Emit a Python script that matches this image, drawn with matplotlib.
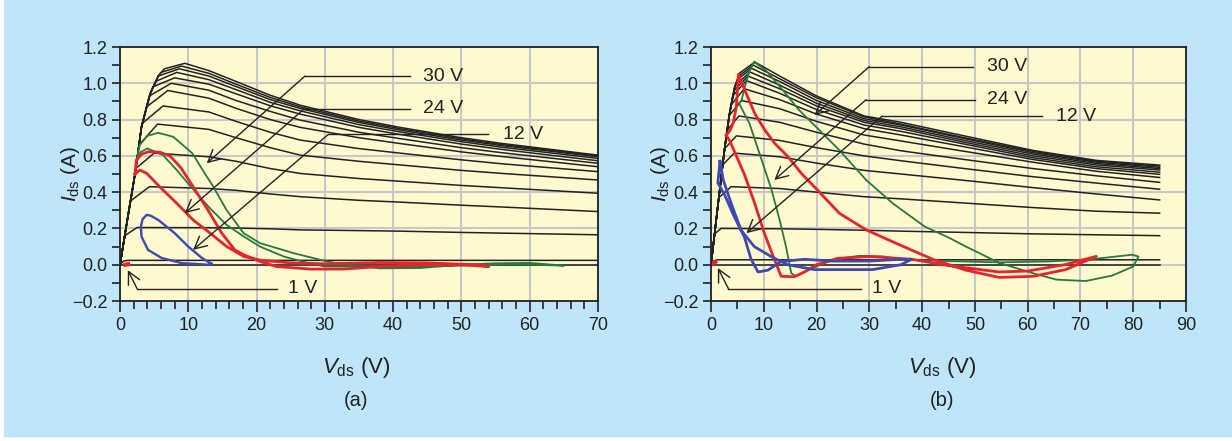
import numpy as np
import matplotlib.pyplot as plt
from matplotlib.patches import Rectangle

plt.rcParams['font.family'] = ['Liberation Sans', 'DejaVu Sans']
plt.rcParams['mathtext.fontset'] = 'custom'
plt.rcParams['mathtext.rm'] = 'Liberation Sans'
plt.rcParams['mathtext.it'] = 'Liberation Sans:italic'

# ---------------- panel (a) data ----------------
a_env_v = [0, 1.0, 2.2, 3.15, 4.4, 5.6, 7.0]
a_env_i = [0, 0.23, 0.50, 0.76, 0.94, 1.04, 1.09]
a_knee_v = [6.5, 6.0, 5.6, 5.2, 4.8, 4.3, 3.9, 3.3, 2.8, 2.3, 1.5, 0.7, 0.5, 0.3]
a_knee_i = [1.08, 1.06, 1.04, 1.01, 0.98, 0.93, 0.87, 0.78, 0.66, 0.53, 0.35, 0.16, 0.02, 0.0]
a_peak_v = [9.5, 9.0, 8.7, 8.3, 8.0, 7.5, 7.0, 6.3, 5.5, 5.0, 4.3, 2.5, 1.2, 1.0]
a_peak_i = [1.11, 1.095, 1.08, 1.06, 1.03, 1.0, 0.96, 0.875, 0.775, 0.615, 0.43, 0.205, 0.024, 0.0]
a_tail_v = [13, 17, 22, 26.4, 35, 41, 50, 56, 70]
a_tail_i = [
    [1.07, 1.01, 0.934, 0.879, 0.80, 0.757, 0.70, 0.668, 0.604],
    [1.055, 0.995, 0.922, 0.870, 0.792, 0.750, 0.694, 0.662, 0.600],
    [1.04, 0.982, 0.91, 0.861, 0.784, 0.742, 0.687, 0.656, 0.595],
    [1.02, 0.965, 0.895, 0.848, 0.772, 0.732, 0.678, 0.647, 0.586],
    [0.995, 0.942, 0.876, 0.830, 0.757, 0.718, 0.665, 0.635, 0.573],
    [0.962, 0.905, 0.845, 0.797, 0.73, 0.695, 0.645, 0.617, 0.559],
    [0.918, 0.862, 0.80, 0.757, 0.70, 0.668, 0.622, 0.596, 0.540],
    [0.842, 0.79, 0.73, 0.687, 0.64, 0.615, 0.578, 0.556, 0.513],
    [0.746, 0.70, 0.645, 0.604, 0.57, 0.55, 0.52, 0.503, 0.467],
    [0.595, 0.57, 0.53, 0.503, 0.475, 0.46, 0.437, 0.424, 0.394],
    [0.42, 0.41, 0.39, 0.375, 0.355, 0.345, 0.328, 0.318, 0.293],
    [0.204, 0.202, 0.198, 0.192, 0.188, 0.185, 0.178, 0.174, 0.165],
    [0.024, 0.024, 0.024, 0.024, 0.024, 0.024, 0.024, 0.024, 0.024],
    [0.0, 0.0, 0.0, 0.0, 0.0, 0.0, 0.0, 0.0, 0.0],
]
a_green_v = [2.3, 2.9, 4.0, 5.6, 7.8, 10.6, 12.4, 13.5, 15.6, 18.1, 20.5, 25.4, 30.3, 33, 38, 44, 50,
             55, 60, 65, 58, 50, 40, 30, 27, 24, 20.5, 18.1, 15.6, 13.2, 11.2, 8.3, 6.3, 4.0, 3.0, 2.6]
a_green_i = [0.55, 0.66, 0.71, 0.727, 0.705, 0.614, 0.504, 0.44, 0.302, 0.174, 0.119, 0.064, 0.018, 0.0,
             -0.02, -0.018, 0.0, 0.008, 0.01, -0.005, 0.003, -0.005, -0.01, -0.01, 0.015, 0.045, 0.10,
             0.156, 0.22, 0.31, 0.394, 0.522, 0.604, 0.641, 0.62, 0.58]
a_red_v = [2.2, 2.4, 3.2, 4.2, 5.8, 7.3, 8.3, 9.0, 10.7, 12.9, 14.9, 16.8, 18.1, 20.5, 22.9, 27.8, 32.7,
           38, 45, 50, 54, 52, 45, 38, 30, 25, 20.5, 18.1, 15.6, 13.2, 10.7, 8.3, 5.8, 3.9, 2.9, 2.2]
a_red_i = [0.50, 0.577, 0.61, 0.623, 0.62, 0.60, 0.56, 0.53, 0.43, 0.30, 0.174, 0.082, 0.055, 0.018,
           -0.01, -0.024, -0.024, -0.01, 0.0, 0.0, -0.01, 0.0, 0.01, 0.012, 0.005, 0.01, 0.025, 0.046,
           0.101, 0.174, 0.247, 0.339, 0.43, 0.504, 0.522, 0.50]
a_blue_v = [13.4, 12.0, 10.0, 8.0, 5.6, 4.5, 3.9, 3.3, 3.05, 3.15, 4.1, 6.1, 9.0, 12.9, 13.4]
a_blue_i = [0.005, 0.037, 0.10, 0.174, 0.247, 0.27, 0.275, 0.25, 0.21, 0.155, 0.082, 0.037, 0.009, 0.0, 0.005]
a_dot_v = [0.8, 1.2]
a_dot_i = [0.0, 0.003]

# ---------------- panel (b) data ----------------
b_env_v = [0, 1.2, 2.55, 3.5, 4.5, 5.5]
b_env_i = [0, 0.30, 0.632, 0.83, 0.98, 1.06]
b_knee_v = [5.6, 5.3, 5.0, 4.7, 4.4, 4.1, 3.8, 3.4, 3.0, 2.6, 2.2, 1.5, 0.7, 0.5, 0.3]
b_knee_i = [1.06, 1.04, 1.02, 0.99, 0.96, 0.93, 0.88, 0.82, 0.74, 0.64, 0.55, 0.37, 0.17, 0.02, 0.0]
b_peak_v = [8.3, 8.0, 7.7, 7.4, 7.0, 6.7, 6.3, 5.8, 5.3, 4.8, 4.4, 3.8, 1.9, 1.2, 1.0]
b_peak_i = [1.117, 1.10, 1.082, 1.062, 1.04, 1.015, 0.97, 0.905, 0.82, 0.71, 0.615, 0.43, 0.20, 0.027, 0.0]
b_tail_v = [13, 20, 29, 36, 48, 61, 73, 85]
b_tail_i = [
    [1.04, 0.93, 0.82, 0.785, 0.71, 0.63, 0.575, 0.549],
    [1.025, 0.92, 0.815, 0.775, 0.70, 0.625, 0.57, 0.544],
    [1.01, 0.905, 0.805, 0.77, 0.695, 0.618, 0.565, 0.537],
    [0.99, 0.89, 0.795, 0.76, 0.685, 0.61, 0.558, 0.530],
    [0.97, 0.875, 0.785, 0.75, 0.675, 0.60, 0.55, 0.522],
    [0.945, 0.855, 0.77, 0.735, 0.665, 0.59, 0.54, 0.510],
    [0.91, 0.83, 0.75, 0.715, 0.65, 0.58, 0.53, 0.498],
    [0.86, 0.79, 0.715, 0.682, 0.625, 0.565, 0.515, 0.481],
    [0.785, 0.73, 0.665, 0.628, 0.58, 0.53, 0.49, 0.454],
    [0.685, 0.645, 0.60, 0.573, 0.53, 0.485, 0.45, 0.416],
    [0.595, 0.56, 0.52, 0.50, 0.465, 0.425, 0.39, 0.357],
    [0.42, 0.40, 0.375, 0.363, 0.34, 0.315, 0.295, 0.284],
    [0.198, 0.195, 0.19, 0.185, 0.178, 0.17, 0.165, 0.160],
    [0.027, 0.027, 0.027, 0.027, 0.027, 0.027, 0.027, 0.027],
    [0.0, 0.0, 0.0, 0.0, 0.0, 0.0, 0.0, 0.0],
]
b_red_v = [2.9, 3.6, 4.2, 4.8, 5.2, 6.4, 8.3, 10.2, 12.1, 14.6, 17.1, 19.9, 24.3, 29.4, 35.7, 42, 48.3,
           54.6, 61, 67.2, 73, 67, 60, 54.6, 45, 38, 30, 24, 20, 17.7, 15.8, 13.3, 12.0, 10.1, 8.2,
           6.3, 4.5, 3.6, 2.9]
b_red_i = [0.714, 0.74, 0.78, 0.87, 1.05, 0.962, 0.833, 0.742, 0.668, 0.595, 0.504, 0.42, 0.284, 0.192,
           0.11, 0.03, -0.03, -0.07, -0.064, -0.027, 0.046, 0.0, -0.035, -0.04, -0.005, 0.03, 0.045,
           0.035, 0.0, -0.04, -0.066, -0.064, 0.03, 0.174, 0.345, 0.50, 0.62, 0.68, 0.714]
b_green_v = [8.2, 10.4, 13.6, 16.7, 19.9, 24.3, 29.4, 34.4, 40.5, 45, 48.3, 54.6, 60.9, 65.4, 71, 76,
             80, 81, 79.8, 72, 64, 54.6, 45, 37, 32.5, 28, 23, 18.6, 16.1, 15.2, 14.2, 13, 11.4, 9.8,
             7.3, 5.3, 5.8, 6.4, 7.35, 8.2]
b_green_i = [1.117, 1.071, 0.962, 0.852, 0.76, 0.632, 0.467, 0.339, 0.21, 0.15, 0.10, 0.01, -0.046,
             -0.082, -0.09, -0.06, -0.01, 0.045, 0.055, 0.03, 0.018, 0.013, 0.02, 0.027, 0.046, 0.049,
             0.027, -0.027, -0.064, -0.046, 0.101, 0.247, 0.42, 0.559, 0.778, 0.89, 0.907, 0.98,
             1.072, 1.117]
b_blue_v = [1.7, 1.3, 2.5, 4.4, 6.3, 7.6, 8.9, 10.8, 13.3, 17.7, 23, 30, 36, 38, 36, 30.6, 23, 19.6,
            14.5, 11.4, 8.2, 5.7, 3.8, 2.3, 1.7]
b_blue_i = [0.57, 0.45, 0.39, 0.265, 0.155, 0.03, -0.04, -0.03, 0.018, 0.03, 0.02, 0.02, 0.03, 0.03,
            0.0, -0.027, -0.027, -0.027, 0.0, 0.045, 0.10, 0.19, 0.34, 0.47, 0.57]
b_dot_v = [0.3, 0.8]
b_dot_i = [0.005, 0.015]

# annotation labels: text, corner (v, i), end of horizontal line, text start, arrow tip (v, i)
ann_text = ['30 V', '24 V', '12 V', '1 V']
a_corner_v = [27.1, 27.0, 30.5, 2.5]
a_corner_i = [1.04, 0.86, 0.718, -0.132]
a_line_end = [42.5, 42.5, 53.9, 23.0]
a_text_v = [44.4, 44.4, 56.1, 24.6]
a_tip_v = [12.7, 9.5, 10.7, 1.15]
a_tip_i = [0.559, 0.284, 0.082, -0.03]
b_corner_v = [30.0, 29.4, 32.4, 3.3]
b_corner_i = [1.092, 0.91, 0.819, -0.132]
b_line_end = [49.7, 50.0, 62.7, 28.5]
b_text_v = [52.3, 52.3, 65.3, 30.5]
b_tip_v = [19.6, 12.0, 6.7, 1.3]
b_tip_i = [0.824, 0.467, 0.174, -0.018]

y_ticks = [-0.2, 0.0, 0.2, 0.4, 0.6, 0.8, 1.0, 1.2]
y_tick_labels = ['\u22120.2', '0.0', '0.2', '0.4', '0.6', '0.8', '1.0', '1.2']

BLUE_BG = '#bee5f8'
PANEL = '#fff9cf'
RED = '#e8232b'
GREEN = '#257a3c'
PURPLE = '#4049b0'
INK = '#222222'


def black_curve(env_v, env_i, kv, ki, pv, pi, tail_v, tail_i):
    v = [x for x in env_v if x < kv]
    i = [y for x, y in zip(env_v, env_i) if x < kv]
    return v + [kv, pv] + list(tail_v), i + [ki, pi] + list(tail_i)


def setup(ax, xmax, xminor):
    ax.set_facecolor(PANEL)
    ax.set_xlim(0, xmax)
    ax.set_ylim(-0.2, 1.2)
    ax.set_xticks(np.arange(0, xmax + 1, 10))
    ax.set_xticks(np.arange(0, xmax + 0.1, xminor), minor=True)
    ax.set_yticks(y_ticks)
    ax.set_yticklabels(y_tick_labels)
    ax.set_yticks(np.arange(-0.2, 1.21, 0.1), minor=True)
    ax.grid(which='major', color='#c8c8c8', lw=1.5)
    ax.set_axisbelow(True)
    ax.tick_params(which='both', direction='out', width=1.2, colors=INK, labelsize=13)
    ax.tick_params(axis='x', which='major', length=8)
    ax.tick_params(axis='x', which='minor', length=5.5)
    ax.tick_params(axis='y', which='both', length=5.5)
    for s in ax.spines.values():
        s.set_linewidth(1.3)
        s.set_color(INK)


def annotate(ax, cv, ci, le, tv, tipv, tipi):
    for k in range(len(ann_text)):
        ax.plot([cv[k], le[k]], [ci[k], ci[k]], color=INK, lw=1.0, zorder=5)
        ax.annotate('', xy=(tipv[k], tipi[k]), xytext=(cv[k], ci[k]),
                    arrowprops=dict(arrowstyle='->,head_length=0.55,head_width=0.28',
                                    color=INK, lw=1.0, shrinkA=0, shrinkB=0,
                                    mutation_scale=16), zorder=5)
        ax.text(tv[k], ci[k], ann_text[k], fontsize=14, va='center', ha='left', color=INK)


fig = plt.figure(figsize=(12.32, 4.41), dpi=100, facecolor='white')
fig.patches.append(Rectangle((4 / 1232, 5 / 441), 1, 1, transform=fig.transFigure,
                             color=BLUE_BG, zorder=-10))

ax1 = fig.add_axes([120 / 1232, 1 - 301 / 441, 478 / 1232, 254 / 441])
ax2 = fig.add_axes([711 / 1232, 1 - 301 / 441, 475 / 1232, 254 / 441])
setup(ax1, 70, 2)
setup(ax2, 90, 5)

for k in range(len(a_peak_i)):
    v, i = black_curve(a_env_v, a_env_i, a_knee_v[k], a_knee_i[k], a_peak_v[k], a_peak_i[k],
                       a_tail_v, a_tail_i[k])
    ax1.plot(v, i, color=INK, lw=1.1)
ax1.plot(a_green_v, a_green_i, color=GREEN, lw=1.3)
ax1.plot(a_red_v, a_red_i, color=RED, lw=2.0)
ax1.plot(a_blue_v, a_blue_i, color=PURPLE, lw=1.7)
ax1.plot(a_dot_v, a_dot_i, color=RED, lw=3)
annotate(ax1, a_corner_v, a_corner_i, a_line_end, a_text_v, a_tip_v, a_tip_i)

for k in range(len(b_peak_i)):
    v, i = black_curve(b_env_v, b_env_i, b_knee_v[k], b_knee_i[k], b_peak_v[k], b_peak_i[k],
                       b_tail_v, b_tail_i[k])
    ax2.plot(v, i, color=INK, lw=1.1)
ax2.plot(b_green_v, b_green_i, color=GREEN, lw=1.3)
ax2.plot(b_red_v, b_red_i, color=RED, lw=2.0)
ax2.plot(b_blue_v, b_blue_i, color=PURPLE, lw=2.0)
ax2.plot(b_dot_v, b_dot_i, color=RED, lw=3)
annotate(ax2, b_corner_v, b_corner_i, b_line_end, b_text_v, b_tip_v, b_tip_i)

for xc, yl_x, tag in [(356, 70, '(a)'), (942, 660, '(b)')]:
    fig.text(xc / 1232, 1 - 367 / 441, r'$V_{\rm ds}$ (V)', fontsize=16, ha='center', va='center',
             color=INK)
    fig.text(xc / 1232, 1 - 401 / 441, tag, fontsize=14.5, ha='center', va='center', color=INK)
    fig.text(yl_x / 1232, 1 - 174 / 441, r'$I_{\rm ds}$ (A)', fontsize=15, ha='center',
             va='center', rotation=90, color=INK)

fig.savefig('out.png', dpi=100, facecolor=fig.get_facecolor())
